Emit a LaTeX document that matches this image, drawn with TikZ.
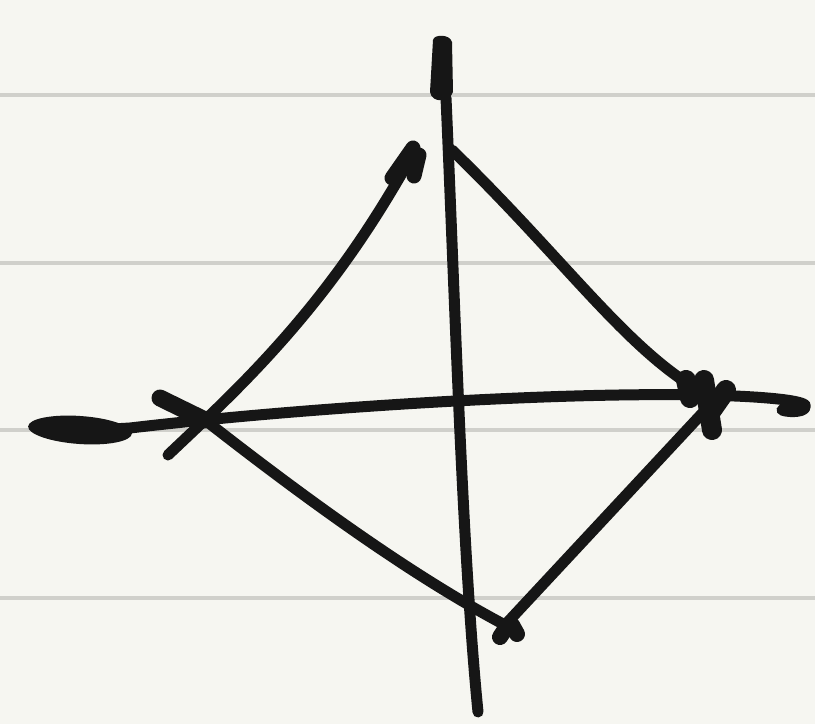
\documentclass[tikz,border=0pt]{standalone}
\begin{document}
\begin{tikzpicture}[x=1pt,y=-1pt,
  ink/.style={draw=inkc,line width=11pt,line cap=round,line join=round},
  thickink/.style={draw=inkc,line width=20pt,line cap=round,line join=round},
  rule/.style={draw=rulec,line width=4pt}]
\definecolor{paper}{HTML}{F6F6F1}
\definecolor{rulec}{HTML}{D0D0CB}
\definecolor{inkc}{HTML}{161616}
\fill[paper] (0,0) rectangle (815,724);
\useasboundingbox (0,0) rectangle (815,724);
% ruled lines
\foreach \yy in {95,263,430,598} \draw[rule] (0,\yy) -- (815,\yy);
% named points
\coordinate (L) at (205,420);
\coordinate (T) at (415,150);
\coordinate (R) at (705,398);
\coordinate (B) at (505,625);
\coordinate (VT) at (446,98);
\coordinate (VB) at (478,712);
\coordinate (HL) at (60,432);
\coordinate (HR) at (790,403);
% vertical axis
\draw[ink] (VT) .. controls (455,300) and (462,550) .. (VB);
\fill[inkc] (433,40) .. controls (434,34) and (450,34) .. (452,42)
  -- (453,92) .. controls (450,102) and (432,104) .. (430,92) -- cycle;
% horizontal axis
\draw[ink] (HL) -- (130,428) .. controls (300,408) and (550,392) .. (700,395)
   .. controls (760,396) and (800,400) .. (805,405) .. controls (808,412) and (790,413) .. (782,410);
\fill[inkc, rotate around={-4:(80,430)}] (80,430) ellipse (52 and 14);
% left edge up to top arrow
\draw[ink] (168,455) -- (L) .. controls (300,330) and (360,250) .. (T);
% top arrowhead
\draw[ink,line width=15pt] (392,178) -- (413,148);
\draw[ink,line width=15pt] (419,155) -- (414,176);
% left arrowhead
\draw[ink,line width=17pt] (160,398) -- (L);
% top right edge
\draw[ink] (452,150) .. controls (560,255) and (620,340) .. (690,385);
% bottom left edge
\draw[ink] (L) .. controls (320,510) and (420,580) .. (B);
% bottom right edge
\draw[ink] (B) -- (710,405);
% bottom arrowhead blobs
\draw[ink,line width=16pt] (500,637) -- (506,628);
\draw[ink,line width=16pt] (517,634) -- (512,625);
% right vertex blob
\draw[thickink] (686,380) -- (690,398);
\draw[thickink] (704,380) -- (712,430);
\draw[thickink] (726,390) -- (712,410);
\end{tikzpicture}
\end{document}
